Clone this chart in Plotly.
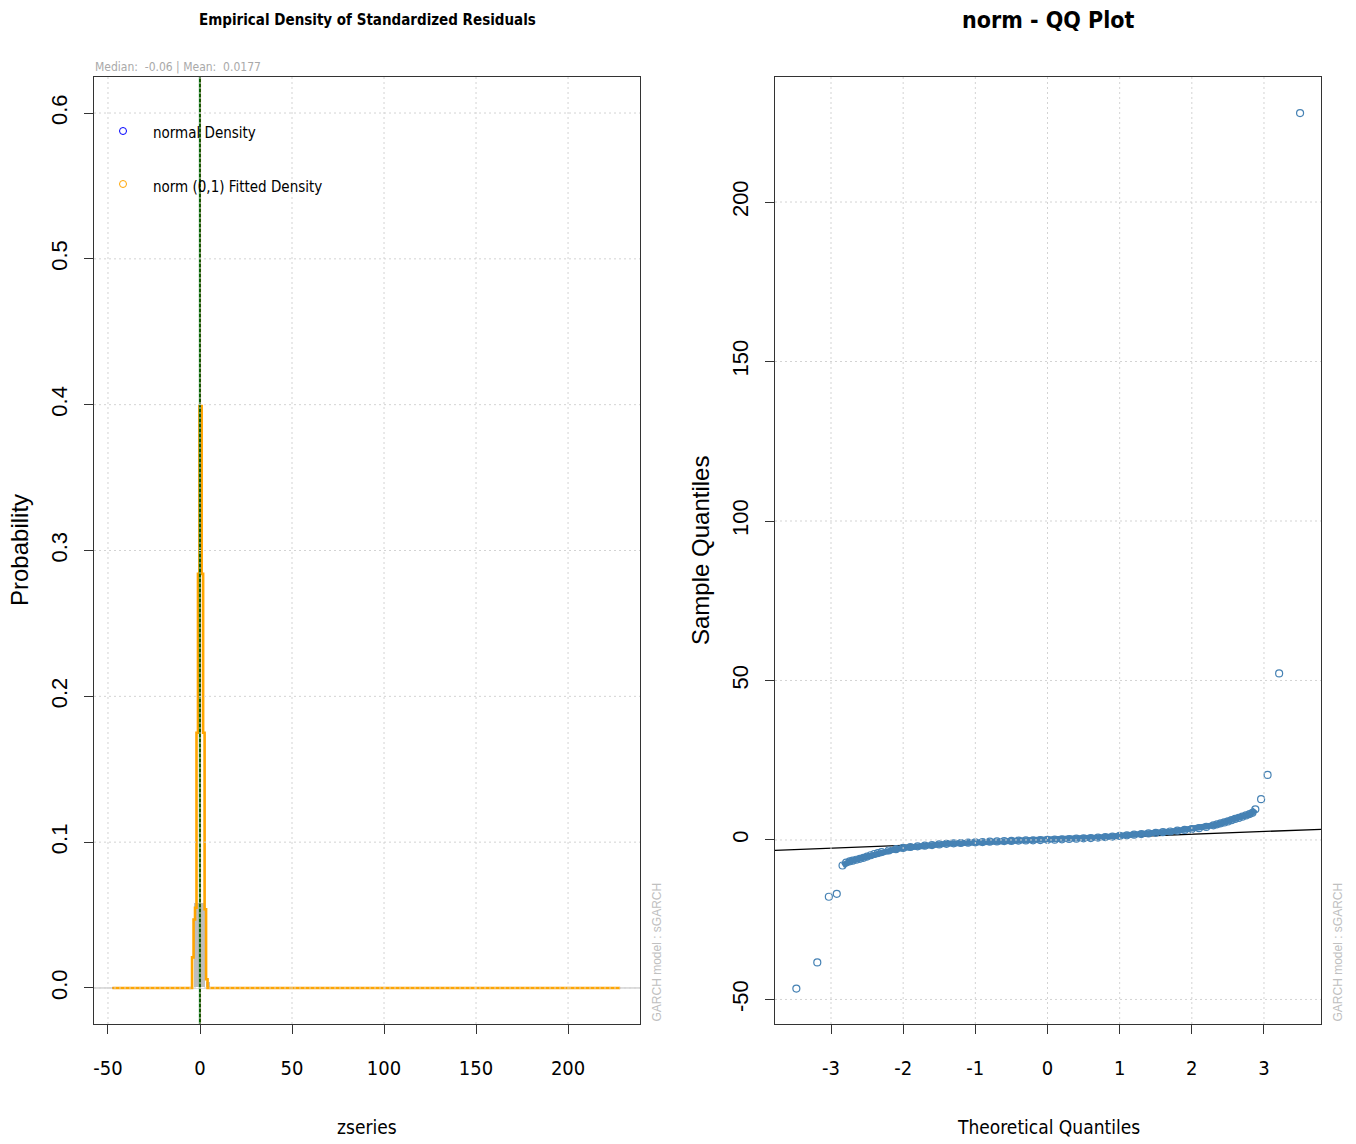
import plotly.graph_objects as go

# ---------------- data: left panel (empirical density) ----------------
dens_breaks = [-47.6, -4.3, -3.5, -2.7, -1.9, -1.1, -0.3, 0.9, 1.7, 2.5, 3.3, 4.1, 228.3]
dens_values = [0.0, 0.021, 0.047, 0.055, 0.175, 0.284, 0.399, 0.284, 0.175, 0.054, 0.006, 0.0, 0.0]
hist_centers = [-1.5, 1.5, 4.5]
hist_heights = [0.058, 0.058, 0.004]
hist_width = 3.0
z_mean = 0.0177
z_median = -0.06
left_xticks = [-50, 0, 50, 100, 150, 200]
left_yticks = [0.0, 0.1, 0.2, 0.3, 0.4, 0.5, 0.6]
legend_labels = ["normal Density", "norm (0,1) Fitted Density"]
legend_colors = ["blue", "orange"]

# ---------------- data: right panel (QQ plot) ----------------
tail_theo = [-3.48, -3.19, -3.03, -2.92, 2.96, 3.05, 3.21, 3.50]
tail_sample = [-46.6, -38.4, -17.8, -16.9, 12.8, 20.4, 52.2, 227.9]
band_theo = [-2.84, -2.79, -2.74, -2.70, -2.65, -2.60, -2.55, -2.50, -2.45, -2.40,
             -2.35, -2.30, -2.20, -2.10, -2.00, -1.90, -1.80, -1.70, -1.60, -1.50,
             -1.40, -1.30, -1.20, -1.10, -1.00, -0.90, -0.80, -0.70, -0.60, -0.50,
             -0.40, -0.30, -0.20, -0.10, 0.00, 0.10, 0.20, 0.30, 0.40, 0.50,
             0.60, 0.70, 0.80, 0.90, 1.00, 1.10, 1.20, 1.30, 1.40, 1.50,
             1.60, 1.70, 1.80, 1.90, 2.00, 2.10, 2.20, 2.30, 2.35, 2.40,
             2.45, 2.50, 2.55, 2.60, 2.65, 2.70, 2.75, 2.80, 2.84, 2.88]
band_sample = [-8.0, -7.1, -6.7, -6.5, -6.2, -5.9, -5.6, -5.2, -4.8, -4.4,
               -4.1, -3.8, -3.3, -2.9, -2.5, -2.2, -2.0, -1.8, -1.6, -1.4,
               -1.2, -1.05, -0.95, -0.85, -0.75, -0.65, -0.55, -0.45, -0.35, -0.3,
               -0.2, -0.15, -0.1, -0.05, 0.05, 0.1, 0.2, 0.3, 0.4, 0.5,
               0.6, 0.75, 0.9, 1.05, 1.25, 1.45, 1.65, 1.85, 2.05, 2.25,
               2.45, 2.65, 2.9, 3.15, 3.4, 3.7, 4.1, 4.6, 4.9, 5.2,
               5.5, 5.8, 6.2, 6.6, 6.9, 7.3, 7.7, 8.1, 8.5, 9.6]
qqline_intercept = 0.05
qqline_slope = 0.87
right_xticks = [-3, -2, -1, 0, 1, 2, 3]
right_yticks = [-50, 0, 50, 100, 150, 200]

# ---------------- layout constants ----------------
W, H = 1356, 1144
NARROW = "Liberation Sans Narrow, DejaVu Sans Condensed, Arial Narrow, sans-serif"
REG = "Liberation Sans, Arial, sans-serif"
L_RANGE_X = [-57.6, 239.1]
L_RANGE_Y = [-0.0247, 0.6247]
R_RANGE_X = [-3.776, 3.79]
R_RANGE_Y = [-57.7, 239.2]
BLUE = "#4682B4"


def px(x):
    return x / W


def py(y):
    return 1 - y / H


fig = go.Figure()

# histogram
fig.add_trace(go.Bar(x=hist_centers, y=hist_heights, width=[hist_width] * len(hist_centers),
                     marker=dict(color="#BEBEBE", line=dict(color="white", width=1)),
                     xaxis="x", yaxis="y", showlegend=False))
# normal density (blue) then fitted (orange) – identical for a norm model
fig.add_trace(go.Scatter(x=dens_breaks, y=dens_values, mode="lines", line_shape="hv",
                         line=dict(color=legend_colors[0], width=1), xaxis="x", yaxis="y",
                         showlegend=False))
fig.add_trace(go.Scatter(x=dens_breaks, y=dens_values, mode="lines", line_shape="hv",
                         line=dict(color=legend_colors[1], width=2.6), xaxis="x", yaxis="y",
                         showlegend=False))

# QQ reference line across full plot
qx = [R_RANGE_X[0], R_RANGE_X[1]]
qy = [qqline_intercept + qqline_slope * v for v in qx]
fig.add_trace(go.Scatter(x=qx, y=qy, mode="lines", line=dict(color="black", width=1.3),
                         xaxis="x2", yaxis="y2", showlegend=False))
# QQ band (dense body)
fig.add_trace(go.Scatter(x=band_theo, y=band_sample, mode="lines+markers",
                         line=dict(color=BLUE, width=6),
                         marker=dict(symbol="circle-open", size=7, color=BLUE,
                                     line=dict(width=1.2, color=BLUE)),
                         xaxis="x2", yaxis="y2", showlegend=False))
# QQ tails
fig.add_trace(go.Scatter(x=tail_theo, y=tail_sample, mode="markers",
                         marker=dict(symbol="circle-open", size=7, color=BLUE,
                                     line=dict(width=1.2, color=BLUE)),
                         xaxis="x2", yaxis="y2", showlegend=False))

shapes = []
# h=0 grey line (left)
shapes.append(dict(type="line", xref="x domain", yref="y", x0=0, x1=1, y0=0, y1=0,
                   line=dict(color="#BEBEBE", width=1), layer="below"))
# mean / median vertical lines
shapes.append(dict(type="line", xref="x", yref="y domain", x0=z_mean, x1=z_mean, y0=0, y1=1,
                   line=dict(color="red", width=2), layer="above"))
shapes.append(dict(type="line", xref="x", yref="y domain", x0=z_median, x1=z_median, y0=0, y1=1,
                   line=dict(color="#006400", width=2), layer="above"))

GRID = dict(color="#D3D3D3", width=1, dash="2px,3px")
for xa, ya, xt, yt in [("x", "y", left_xticks, left_yticks), ("x2", "y2", right_xticks, right_yticks)]:
    for v in xt:
        shapes.append(dict(type="line", xref=xa, yref=ya + " domain", x0=v, x1=v, y0=0, y1=1,
                           line=GRID, layer="above"))
    for v in yt:
        shapes.append(dict(type="line", xref=xa + " domain", yref=ya, x0=0, x1=1, y0=v, y1=v,
                           line=GRID, layer="above"))

# legend markers
for i, c in enumerate(legend_colors):
    cy = [131, 184][i]
    shapes.append(dict(type="circle", xref="paper", yref="paper", xsizemode="pixel",
                       ysizemode="pixel", xanchor=px(123), yanchor=py(cy),
                       x0=-3.5, x1=3.5, y0=-3.5, y1=3.5, line=dict(color=c, width=1)))

annotations = []
# legend text
for i, t in enumerate(legend_labels):
    cy = [133, 187][i]
    annotations.append(dict(text=t, xref="paper", yref="paper", x=px(151), y=py(cy),
                            xanchor="left", yanchor="middle", showarrow=False,
                            font=dict(family=NARROW, size=15, color="black")))
# titles
annotations.append(dict(text="<b>Empirical Density of Standardized Residuals</b>", xref="paper",
                        yref="paper", x=px(367), y=py(20), xanchor="center", yanchor="middle",
                        showarrow=False, font=dict(family=NARROW, size=15, color="black")))
annotations.append(dict(text="<b>norm - QQ Plot</b>", xref="paper", yref="paper", x=px(1048),
                        y=py(20), xanchor="center", yanchor="middle", showarrow=False,
                        font=dict(family=NARROW, size=23, color="black")))
# median/mean text
annotations.append(dict(text="Median:&nbsp; -0.06 | Mean:&nbsp; 0.0177", xref="paper", yref="paper",
                        x=px(93), y=py(67), xanchor="left", yanchor="middle", showarrow=False,
                        font=dict(family=NARROW, size=12, color="#A9A9A9")))
# axis titles
annotations.append(dict(text="zseries", xref="paper", yref="paper", x=px(367), y=py(1127),
                        xanchor="center", yanchor="middle", showarrow=False,
                        font=dict(family=NARROW, size=19, color="black")))
annotations.append(dict(text="Theoretical Quantiles", xref="paper", yref="paper", x=px(1048),
                        y=py(1127), xanchor="center", yanchor="middle", showarrow=False,
                        font=dict(family=NARROW, size=19, color="black")))
annotations.append(dict(text="Probability", xref="paper", yref="paper", x=px(19), y=py(550),
                        xanchor="center", yanchor="middle", textangle=-90, showarrow=False,
                        font=dict(family=REG, size=24, color="black")))
annotations.append(dict(text="Sample Quantiles", xref="paper", yref="paper", x=px(700), y=py(550),
                        xanchor="center", yanchor="middle", textangle=-90, showarrow=False,
                        font=dict(family=REG, size=24, color="black")))
# GARCH model side text
for cx in [656, 1337]:
    annotations.append(dict(text="GARCH model : sGARCH", xref="paper", yref="paper", x=px(cx),
                            y=py(1024), xanchor="center", yanchor="bottom", textangle=-90,
                            showarrow=False, font=dict(family=REG, size=12, color="#C0C0C0")))

axis_common = dict(showline=True, mirror=True, linecolor="#333333", linewidth=1,
                   ticks="outside", ticklen=9, tickcolor="#333333", showgrid=False,
                   zeroline=False, fixedrange=True)

fig.update_layout(
    width=W, height=H, margin=dict(l=0, r=0, t=0, b=0),
    paper_bgcolor="white", plot_bgcolor="white", showlegend=False,
    bargap=0,
    xaxis=dict(domain=[px(94), px(640)], range=L_RANGE_X, anchor="y",
               tickmode="array", tickvals=left_xticks, ticktext=[str(v) for v in left_xticks],
               tickfont=dict(family=NARROW, size=20, color="black"), ticklabelstandoff=17,
               **axis_common),
    yaxis=dict(domain=[py(1024), py(77)], range=L_RANGE_Y, anchor="x",
               tickmode="array", tickvals=left_yticks, ticktext=[f"{v:.1f}" for v in left_yticks],
               tickangle=-90, tickfont=dict(family=REG, size=22, color="black"),
               ticklabelstandoff=8, **axis_common),
    xaxis2=dict(domain=[px(775), px(1321)], range=R_RANGE_X, anchor="y2",
                tickmode="array", tickvals=right_xticks, ticktext=[str(v) for v in right_xticks],
                tickfont=dict(family=NARROW, size=20, color="black"), ticklabelstandoff=17,
                **axis_common),
    yaxis2=dict(domain=[py(1024), py(77)], range=R_RANGE_Y, anchor="x2",
                tickmode="array", tickvals=right_yticks, ticktext=[str(v) for v in right_yticks],
                tickangle=-90, tickfont=dict(family=REG, size=22, color="black"),
                ticklabelstandoff=8, **axis_common),
    shapes=shapes, annotations=annotations,
)

fig.write_html("out.html")
